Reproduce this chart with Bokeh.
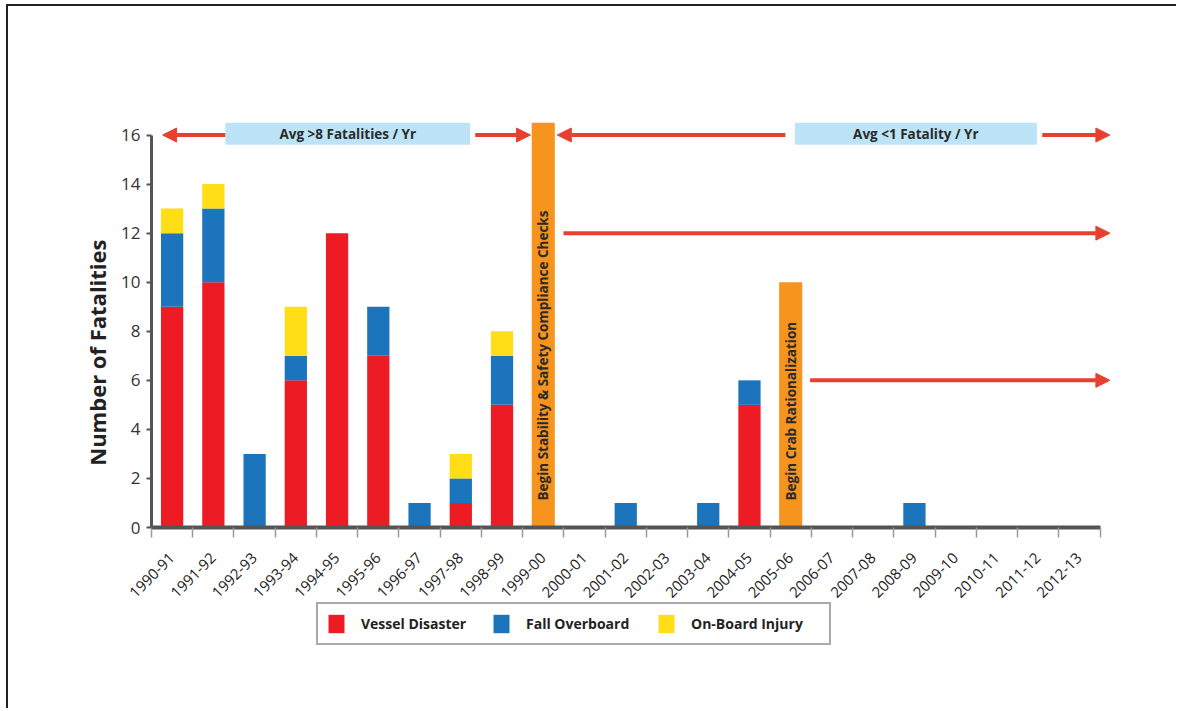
import math
from bokeh.plotting import figure
from bokeh.models import (ColumnDataSource, Range1d, FixedTicker, Arrow, NormalHead,
                          BoxAnnotation, Label, Legend, LegendItem)
from bokeh.core.properties import value
from bokeh.embed import file_html
from bokeh.resources import INLINE

# ---------------- data ----------------
seasons = ["1990-91", "1991-92", "1992-93", "1993-94", "1994-95", "1995-96", "1996-97",
           "1997-98", "1998-99", "1999-00", "2000-01", "2001-02", "2002-03", "2003-04",
           "2004-05", "2005-06", "2006-07", "2007-08", "2008-09", "2009-10", "2010-11",
           "2011-12", "2012-13"]
vessel_disaster = [9, 10, 0, 6, 12, 7, 0, 1, 5, 0, 0, 0, 0, 0, 5, 0, 0, 0, 0, 0, 0, 0, 0]
fall_overboard  = [3, 3, 3, 1, 0, 2, 1, 1, 2, 0, 0, 1, 0, 1, 1, 0, 0, 0, 1, 0, 0, 0, 0]
onboard_injury  = [1, 1, 0, 2, 0, 0, 0, 1, 1, 0, 0, 0, 0, 0, 0, 0, 0, 0, 0, 0, 0, 0, 0]
series_names = ["Vessel Disaster", "Fall Overboard", "On-Board Injury"]

milestone_seasons = ["1999-00", "2005-06"]
milestone_heights = [16.5, 10]
milestone_texts = ["Begin Stability & Safety Compliance Checks", "Begin Crab Rationalization"]

y_ticks = [0, 2, 4, 6, 8, 10, 12, 14, 16]
y_title = "Number of Fatalities"

# ---------------- styling ----------------
RED = "#ED1C24"
BLUE = "#1C75BC"
YELLOW = "#FFDD17"
ORANGE = "#F7941D"
ARROW_RED = "#E8402F"
BOX_BLUE = "#BDE4F6"
FONT = "Open Sans"

n = len(seasons)
centers = [i + 0.5 for i in range(n)]
bounds = list(range(n + 1))

src = ColumnDataSource(dict(x=centers, vd=vessel_disaster, fo=fall_overboard, obi=onboard_injury))

p = figure(width=1170, height=704, output_backend="svg", toolbar_location=None,
           x_range=Range1d(-3.419, 23.4), y_range=Range1d(-7.46, 17),
           min_border_left=2, min_border_right=62, min_border_top=104, min_border_bottom=0,
           styles={"border-top": "2px solid #222", "border-left": "2px solid #222",
                   "margin-top": "4px", "margin-left": "6px"})
p.outline_line_color = None
p.xgrid.visible = False
p.ygrid.visible = False
p.background_fill_color = "white"
p.border_fill_color = "white"

# milestone bars
idx = {s: i for i, s in enumerate(seasons)}
ms_src = ColumnDataSource(dict(x=[idx[s] + 0.5 for s in milestone_seasons], top=milestone_heights,
                               text=milestone_texts, ty=[1.1] * len(milestone_seasons)))
p.vbar(x="x", top="top", bottom=0, width=0.56, fill_color=ORANGE, line_color=None, source=ms_src)
p.text(x="x", y="ty", text="text", angle=math.pi / 2, source=ms_src,
       text_font=value(FONT), text_font_style="bold", text_font_size="13.5px",
       text_color="#2a2a2a", text_align="left", text_baseline="middle")

# stacked bars
rs = p.vbar_stack(["vd", "fo", "obi"], x="x", width=0.54, source=src,
                  fill_color=[RED, BLUE, YELLOW], line_color=None)

# axes
xa = p.xaxis[0]
xa.fixed_location = 0
xa.ticker = FixedTicker(ticks=centers, minor_ticks=bounds)
xa.major_label_overrides = {c: s for c, s in zip(centers, seasons)}
xa.bounds = (0, n)
xa.axis_line_color = "#555555"
xa.axis_line_width = 4
xa.major_tick_out = 0
xa.major_tick_in = 0
xa.minor_tick_out = 10
xa.minor_tick_in = 0
xa.minor_tick_line_color = "#9a9a9a"
xa.minor_tick_line_width = 1.5
xa.major_label_orientation = math.pi / 4
xa.major_label_standoff = 18
xa.major_label_text_font = FONT
xa.major_label_text_font_size = "15px"
xa.major_label_text_color = "#222222"

ya = p.yaxis[0]
ya.fixed_location = 0
ya.ticker = FixedTicker(ticks=y_ticks)
ya.bounds = (0, 16)
ya.axis_line_color = "#555555"
ya.axis_line_width = 3
ya.major_tick_out = 5
ya.major_tick_in = 0
ya.major_tick_line_color = "#555555"
ya.major_tick_line_width = 2
ya.minor_tick_out = 0
ya.minor_tick_in = 0
ya.major_label_text_font = FONT
ya.major_label_text_font_size = "17px"
ya.major_label_text_color = "#333333"
ya.major_label_standoff = 6

p.add_layout(Label(x=-1.31, y=7.13, text=y_title, angle=math.pi / 2, text_align="center",
                   text_baseline="middle", text_font=FONT, text_font_style="bold",
                   text_font_size="22px", text_color="#222222"))

# annotation boxes
for (x0, x1, txt) in [(1.79, 7.73, "Avg >8 Fatalities / Yr"), (15.6, 21.47, "Avg <1 Fatality / Yr")]:
    p.add_layout(BoxAnnotation(left=x0, right=x1, bottom=15.6, top=16.5,
                               fill_color=BOX_BLUE, fill_alpha=1.0, line_color=None))
    p.add_layout(Label(x=(x0 + x1) / 2, y=16.05, text=txt, text_align="center",
                       text_baseline="middle", text_font=FONT, text_font_style="bold",
                       text_font_size="13.5px", text_color="#2a2a2a"))

# arrows
arrows = [(1.79, 16, 0.27, 16), (7.85, 16, 9.19, 16), (15.37, 16, 9.84, 16),
          (21.6, 16, 23.24, 16), (9.99, 12, 23.24, 12), (15.97, 6, 23.24, 6)]
for (xs, ys, xe, ye) in arrows:
    p.add_layout(Arrow(end=NormalHead(size=14, fill_color=ARROW_RED, line_color=ARROW_RED, line_width=1),
                       x_start=xs, y_start=ys, x_end=xe, y_end=ye,
                       line_color=ARROW_RED, line_width=4))

# legend (inside the extended frame, below the axis)
lg = Legend(items=[LegendItem(label=nm, renderers=[r]) for nm, r in zip(series_names, rs)])
lg.orientation = "horizontal"
lg.location = (306, 65)
lg.border_line_color = "#555555"
lg.border_line_width = 2
lg.padding = 8
lg.margin = 0
lg.glyph_width = 20
lg.glyph_height = 23
lg.label_standoff = 15
lg.label_width = 130
lg.spacing = 0
lg.label_text_font = FONT
lg.label_text_font_style = "bold"
lg.label_text_font_size = "14px"
lg.label_text_color = "#222222"
lg.background_fill_alpha = 1.0
p.add_layout(lg, "center")

open("out.html", "w").write(file_html(p, INLINE))
